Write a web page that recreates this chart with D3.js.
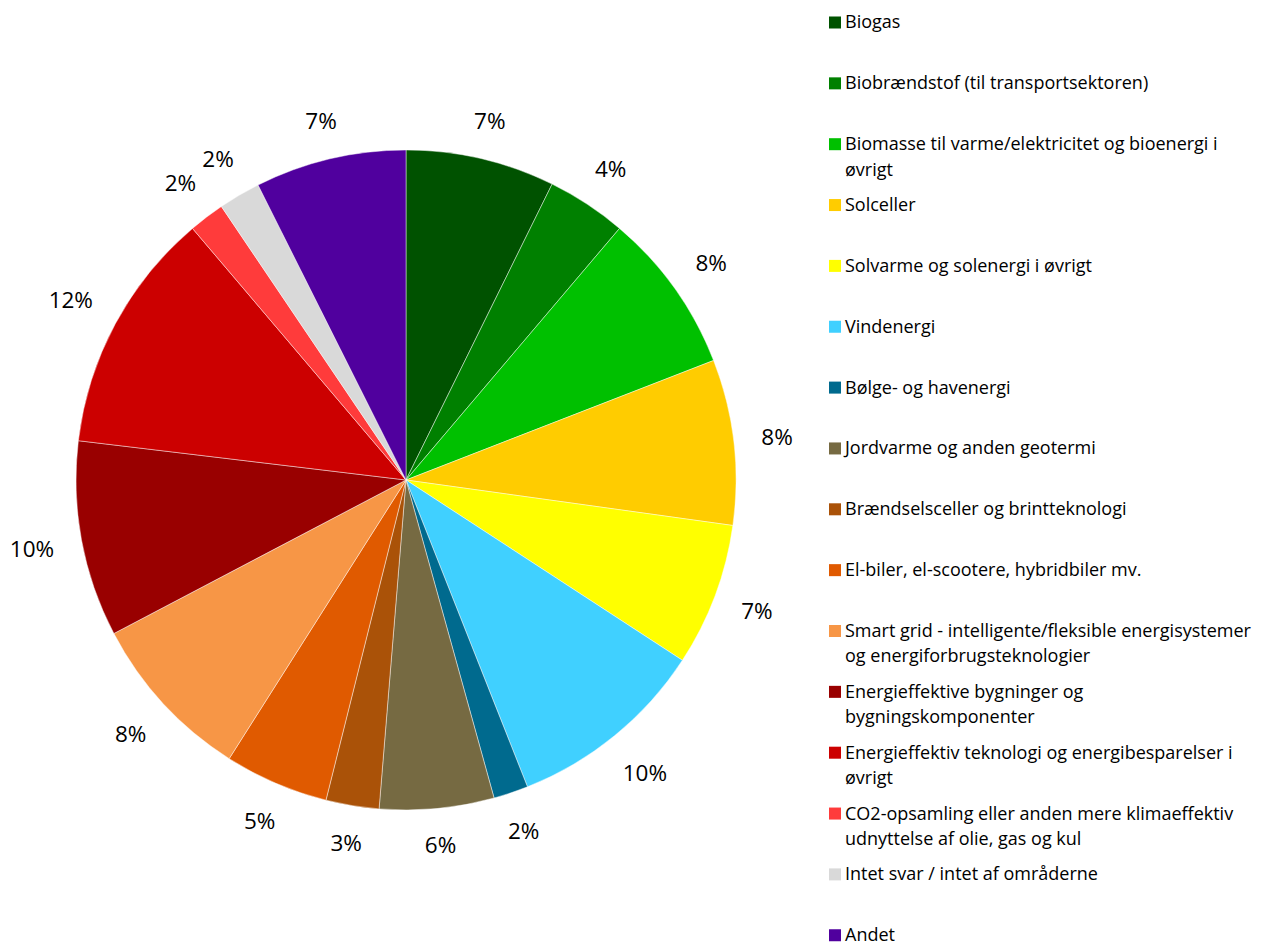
<!DOCTYPE html>
<html>
<head>
<meta charset="utf-8">
<script src="https://cdn.jsdelivr.net/npm/d3@7"></script>
<style>
body{margin:0;background:#fff;}
text{font-family:"Open Sans",sans-serif;fill:#000;}
</style>
</head>
<body>
<svg id="svg" width="1272" height="942"></svg>
<script>
var categories=["Biogas","Biobrændstof (til transportsektoren)","Biomasse til varme/elektricitet og bioenergi i\nøvrigt","Solceller","Solvarme og solenergi i øvrigt","Vindenergi","Bølge- og havenergi","Jordvarme og anden geotermi","Brændselsceller og brintteknologi","El-biler, el-scootere, hybridbiler mv.","Smart grid - intelligente/fleksible energisystemer\nog energiforbrugsteknologier","Energieffektive bygninger og\nbygningskomponenter","Energieffektiv teknologi og energibesparelser i\nøvrigt","CO2-opsamling eller anden mere klimaeffektiv\nudnyttelse af olie, gas og kul","Intet svar / intet af områderne","Andet"];
var values=[7.3,3.9,7.9,8.1,7.0,9.8,1.7,5.6,2.6,5.1,8.3,9.6,11.9,1.75,2.05,7.4];
var colors=["#005200","#008000","#00c000","#ffcc00","#ffff00","#40d0ff","#006a8e","#766a42","#aa5208","#e05a00","#f79646","#990000","#cc0000","#ff3b3b","#d9d9d9","#50009e"];

var cx=406, cy=480, radius=330, labelGap=357;

var svg=d3.select("#svg");
var total=d3.sum(values);

var pie=d3.pie().sort(null).value(d=>d);
var arc=d3.arc().innerRadius(0).outerRadius(radius);

var g=svg.append("g").attr("transform","translate("+cx+","+cy+")");

g.selectAll("path")
    .data(pie(values)).enter().append("path")
        .attr("d",arc)
        .attr("fill",(d,i)=>colors[i])
        .attr("stroke","#ffffff")
        .attr("stroke-opacity",0.6)
        .attr("stroke-width",0.75);

//percent labels outside the slices, pushed out by half their box
g.selectAll("text.pct")
    .data(pie(values)).enter().append("text")
        .attr("class","pct")
        .attr("text-anchor","middle")
        .attr("dy","0.36em")
        .style("font-size","22.5px")
        .text(d=>Math.round(d.value/total*100)+"%")
        .each(function(d){
            var a=(d.startAngle+d.endAngle)/2;
            var s=Math.sin(a), c=-Math.cos(a);
            var w=this.getComputedTextLength(), h=17;
            var r=labelGap+Math.abs(s)*w/2+Math.abs(c)*h/2;
            d3.select(this).attr("transform","translate("+(s*r)+","+(c*r)+")");
        });

//legend
var legend=svg.append("g").attr("transform","translate(829,22)");
var item=legend.selectAll("g")
    .data(categories).enter().append("g")
        .attr("transform",(d,i)=>"translate(0,"+(i*60.85)+")");

item.append("rect")
    .attr("x",0).attr("y",-5.5)
    .attr("width",12).attr("height",12)
    .attr("fill",(d,i)=>colors[i]);

//one text element per wrapped line
item.selectAll("text")
    .data(d=>d.split("\n")).enter().append("text")
        .attr("x",16)
        .attr("y",(d,i)=>i*25.5)
        .attr("dy","0.36em")
        .style("font-size","18px")
        .text(d=>d);
</script>
</body>
</html>
